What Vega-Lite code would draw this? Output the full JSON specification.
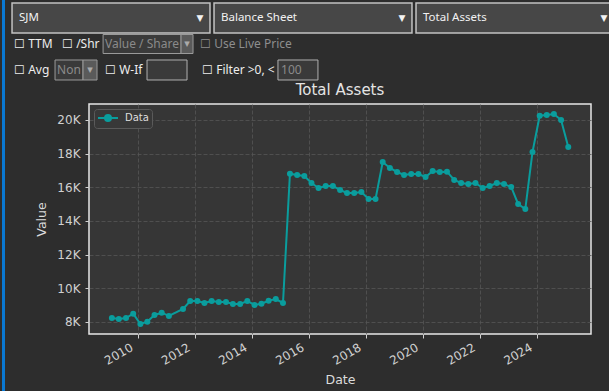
{
  "$schema": "https://vega.github.io/schema/vega-lite/v6.json",
  "background": "#2d2d2d",
  "padding": {"left": 2, "top": 0, "right": 0, "bottom": 10},
  "spacing": 4,
  "config": {"view": {"stroke": null}, "font": "DejaVu Sans"},
  "resolve": {"scale": {"color": "independent"}, "legend": {"color": "independent"}},
  "hconcat": [
    {
      "width": 3, "height": 391,
      "view": {"fill": "#0a78d2", "stroke": null},
      "data": {"values": []},
      "mark": "point"
    },
    {
      "spacing": 0,
      "resolve": {"scale": {"color": "independent"}, "legend": {"color": "independent"}},
      "vconcat": [
        {
          "width": 608, "height": 82,
          "view": {"stroke": null},
          "data": {"values": [{"name": "SJM", "row": "r1"}, {"name": "Balance Sheet", "row": "r1"}, {"name": "Total Assets", "row": "r1"}]},
          "layer": [
            {
              "mark": {"type": "rect", "height": 30, "fill": "#474747", "stroke": "#c2c2c2", "strokeWidth": 1.5},
              "encoding": {
                "x": {"field": "name", "type": "nominal", "scale": {"type": "band", "domain": ["SJM", "Balance Sheet", "Total Assets"], "paddingInner": 0.02, "paddingOuter": 0.015}, "axis": null},
                "y": {"field": "row", "type": "ordinal", "scale": {"type": "point", "domain": ["r1", "r2", "r3"], "padding": 0.577, "align": 0.6}, "axis": null}
              }
            },
            {
              "mark": {"type": "text", "align": "left", "baseline": "middle", "dx": 7, "color": "#f2f2f2", "fontSize": 11.5, "font": "Noto Sans"},
              "encoding": {"x": {"field": "name", "type": "nominal", "bandPosition": 0}, "y": {"field": "row", "type": "ordinal"}, "text": {"field": "name"}}
            },
            {
              "mark": {"type": "text", "align": "center", "baseline": "middle", "dx": -10, "color": "#f2f2f2", "fontSize": 9},
              "encoding": {"x": {"field": "name", "type": "nominal", "bandPosition": 1}, "y": {"field": "row", "type": "ordinal"}, "text": {"value": "▼"}}
            },
            {
              "data": {"values": [{"row": "r2"}]},
              "mark": {"type": "point", "shape": "M-3.9,-0.95L3.9,-0.95L3.9,0.95L-3.9,0.95Z", "size": 400, "filled": true, "fill": "#3a3a3a", "stroke": "#9a9a9a", "strokeWidth": 1, "opacity": 1},
              "encoding": {"x": {"datum": "SJM", "type": "nominal", "bandPosition": 0.657}, "y": {"field": "row", "type": "ordinal"}}
            },
            {
              "data": {"values": [{"row": "r2"}]},
              "mark": {"type": "point", "shape": "M-0.6,-0.95L0.6,-0.95L0.6,0.95L-0.6,0.95Z", "size": 400, "filled": true, "fill": "#5a5a5a", "stroke": "#9a9a9a", "strokeWidth": 1, "opacity": 1},
              "encoding": {"x": {"datum": "SJM", "type": "nominal", "bandPosition": 0.884}, "y": {"field": "row", "type": "ordinal"}}
            },
            {
              "data": {"values": [{"row": "r3"}]},
              "mark": {"type": "point", "shape": "M-1.4,-1L1.4,-1L1.4,1L-1.4,1Z", "size": 400, "filled": true, "fill": "#3a3a3a", "stroke": "#9a9a9a", "strokeWidth": 1, "opacity": 1},
              "encoding": {"x": {"datum": "SJM", "type": "nominal", "bandPosition": 0.288}, "y": {"field": "row", "type": "ordinal"}}
            },
            {
              "data": {"values": [{"row": "r3"}]},
              "mark": {"type": "point", "shape": "M-0.7,-1L0.7,-1L0.7,1L-0.7,1Z", "size": 400, "filled": true, "fill": "#5a5a5a", "stroke": "#9a9a9a", "strokeWidth": 1, "opacity": 1},
              "encoding": {"x": {"datum": "SJM", "type": "nominal", "bandPosition": 0.394}, "y": {"field": "row", "type": "ordinal"}}
            },
            {
              "data": {"values": [{"row": "r3"}]},
              "mark": {"type": "point", "shape": "M-2,-1L2,-1L2,1L-2,1Z", "size": 400, "filled": true, "fill": "#3a3a3a", "stroke": "#b0b0b0", "strokeWidth": 1, "opacity": 1},
              "encoding": {"x": {"datum": "SJM", "type": "nominal", "bandPosition": 0.783}, "y": {"field": "row", "type": "ordinal"}}
            },
            {
              "data": {"values": [{"row": "r3"}]},
              "mark": {"type": "point", "shape": "M-2,-1L2,-1L2,1L-2,1Z", "size": 400, "filled": true, "fill": "#3a3a3a", "stroke": "#b0b0b0", "strokeWidth": 1, "opacity": 1},
              "encoding": {"x": {"datum": "Balance Sheet", "type": "nominal", "bandPosition": 0.424}, "y": {"field": "row", "type": "ordinal"}}
            },
            {
              "data": {"values": [{"row": "r2", "label": "☐ TTM"}, {"row": "r3", "label": "☐ Avg"}]},
              "mark": {"type": "text", "align": "left", "baseline": "middle", "dx": 2, "color": "#eeeeee", "fontSize": 12, "font": "Noto Sans"},
              "encoding": {"x": {"datum": "SJM", "type": "nominal", "bandPosition": 0}, "y": {"field": "row", "type": "ordinal"}, "text": {"field": "label"}}
            },
            {
              "data": {"values": [{"row": "r2", "label": "☐ /Shr"}]},
              "mark": {"type": "text", "align": "left", "baseline": "middle", "dx": 50, "color": "#eeeeee", "fontSize": 12, "font": "Noto Sans"},
              "encoding": {"x": {"datum": "SJM", "type": "nominal", "bandPosition": 0}, "y": {"field": "row", "type": "ordinal"}, "text": {"field": "label"}}
            },
            {
              "data": {"values": [{"row": "r2", "label": "Value / Share"}]},
              "mark": {"type": "text", "align": "left", "baseline": "middle", "dx": 93, "color": "#8a8a8a", "fontSize": 12, "font": "Noto Sans"},
              "encoding": {"x": {"datum": "SJM", "type": "nominal", "bandPosition": 0}, "y": {"field": "row", "type": "ordinal"}, "text": {"field": "label"}}
            },
            {
              "data": {"values": [{"row": "r2", "label": "▾"}]},
              "mark": {"type": "text", "align": "center", "baseline": "middle", "dx": 175, "color": "#aaaaaa", "fontSize": 11},
              "encoding": {"x": {"datum": "SJM", "type": "nominal", "bandPosition": 0}, "y": {"field": "row", "type": "ordinal"}, "text": {"field": "label"}}
            },
            {
              "data": {"values": [{"row": "r2", "label": "☐ Use Live Price"}]},
              "mark": {"type": "text", "align": "left", "baseline": "middle", "dx": 188, "color": "#8e8e8e", "fontSize": 12, "font": "Noto Sans"},
              "encoding": {"x": {"datum": "SJM", "type": "nominal", "bandPosition": 0}, "y": {"field": "row", "type": "ordinal"}, "text": {"field": "label"}}
            },
            {
              "data": {"values": [{"row": "r3", "label": "Non"}]},
              "mark": {"type": "text", "align": "left", "baseline": "middle", "dx": 45, "color": "#8a8a8a", "fontSize": 12, "font": "Noto Sans"},
              "encoding": {"x": {"datum": "SJM", "type": "nominal", "bandPosition": 0}, "y": {"field": "row", "type": "ordinal"}, "text": {"field": "label"}}
            },
            {
              "data": {"values": [{"row": "r3", "label": "▾"}]},
              "mark": {"type": "text", "align": "center", "baseline": "middle", "dx": 78, "color": "#aaaaaa", "fontSize": 11},
              "encoding": {"x": {"datum": "SJM", "type": "nominal", "bandPosition": 0}, "y": {"field": "row", "type": "ordinal"}, "text": {"field": "label"}}
            },
            {
              "data": {"values": [{"row": "r3", "label": "☐ W-If"}]},
              "mark": {"type": "text", "align": "left", "baseline": "middle", "dx": 93, "color": "#eeeeee", "fontSize": 12, "font": "Noto Sans"},
              "encoding": {"x": {"datum": "SJM", "type": "nominal", "bandPosition": 0}, "y": {"field": "row", "type": "ordinal"}, "text": {"field": "label"}}
            },
            {
              "data": {"values": [{"row": "r3", "label": "☐ Filter >0, <"}]},
              "mark": {"type": "text", "align": "left", "baseline": "middle", "dx": 190, "color": "#eeeeee", "fontSize": 12, "font": "Noto Sans"},
              "encoding": {"x": {"datum": "SJM", "type": "nominal", "bandPosition": 0}, "y": {"field": "row", "type": "ordinal"}, "text": {"field": "label"}}
            },
            {
              "data": {"values": [{"row": "r3", "label": "100"}]},
              "mark": {"type": "text", "align": "left", "baseline": "middle", "dx": 269, "color": "#8a8a8a", "fontSize": 12, "font": "Noto Sans"},
              "encoding": {"x": {"datum": "SJM", "type": "nominal", "bandPosition": 0}, "y": {"field": "row", "type": "ordinal"}, "text": {"field": "label"}}
            }
          ]
        },
        {
          "spacing": 0,
          "resolve": {"scale": {"color": "independent"}, "legend": {"color": "independent"}},
          "hconcat": [
            {
              "width": 26, "height": 230,
              "view": {"stroke": null},
              "data": {"values": []},
              "mark": "point"
            },
            {
              "width": 502, "height": 230,
              "view": {"fill": "#363636", "stroke": "#e6e6e6", "strokeWidth": 1.5},
              "title": {"text": "Total Assets", "fontSize": 15, "fontWeight": "normal", "color": "#e4e4e4", "font": "DejaVu Sans", "offset": 6, "anchor": "middle"},
              "data": {"values": [
                {"date": "2009-01-31", "value": 8238, "series": "Data"},
                {"date": "2009-04-30", "value": 8178, "series": "Data"},
                {"date": "2009-07-31", "value": 8238, "series": "Data"},
                {"date": "2009-10-31", "value": 8493, "series": "Data"},
                {"date": "2010-01-31", "value": 7881, "series": "Data"},
                {"date": "2010-04-30", "value": 8018, "series": "Data"},
                {"date": "2010-07-31", "value": 8416, "series": "Data"},
                {"date": "2010-10-31", "value": 8552, "series": "Data"},
                {"date": "2011-01-31", "value": 8356, "series": "Data"},
                {"date": "2011-07-31", "value": 8772, "series": "Data"},
                {"date": "2011-10-31", "value": 9248, "series": "Data"},
                {"date": "2012-01-31", "value": 9248, "series": "Data"},
                {"date": "2012-04-30", "value": 9129, "series": "Data"},
                {"date": "2012-07-31", "value": 9248, "series": "Data"},
                {"date": "2012-10-31", "value": 9188, "series": "Data"},
                {"date": "2013-01-31", "value": 9188, "series": "Data"},
                {"date": "2013-04-30", "value": 9069, "series": "Data"},
                {"date": "2013-07-31", "value": 9069, "series": "Data"},
                {"date": "2013-10-31", "value": 9248, "series": "Data"},
                {"date": "2014-01-31", "value": 9010, "series": "Data"},
                {"date": "2014-04-30", "value": 9087, "series": "Data"},
                {"date": "2014-07-31", "value": 9265, "series": "Data"},
                {"date": "2014-10-31", "value": 9366, "series": "Data"},
                {"date": "2015-01-31", "value": 9129, "series": "Data"},
                {"date": "2015-04-30", "value": 16810, "series": "Data"},
                {"date": "2015-07-31", "value": 16733, "series": "Data"},
                {"date": "2015-10-31", "value": 16673, "series": "Data"},
                {"date": "2016-01-31", "value": 16258, "series": "Data"},
                {"date": "2016-04-30", "value": 15960, "series": "Data"},
                {"date": "2016-07-31", "value": 16079, "series": "Data"},
                {"date": "2016-10-31", "value": 16079, "series": "Data"},
                {"date": "2017-01-31", "value": 15842, "series": "Data"},
                {"date": "2017-04-30", "value": 15664, "series": "Data"},
                {"date": "2017-07-31", "value": 15664, "series": "Data"},
                {"date": "2017-10-31", "value": 15723, "series": "Data"},
                {"date": "2018-01-31", "value": 15307, "series": "Data"},
                {"date": "2018-04-30", "value": 15307, "series": "Data"},
                {"date": "2018-07-31", "value": 17505, "series": "Data"},
                {"date": "2018-10-31", "value": 17149, "series": "Data"},
                {"date": "2019-01-31", "value": 16911, "series": "Data"},
                {"date": "2019-04-30", "value": 16733, "series": "Data"},
                {"date": "2019-07-31", "value": 16792, "series": "Data"},
                {"date": "2019-10-31", "value": 16792, "series": "Data"},
                {"date": "2020-01-31", "value": 16614, "series": "Data"},
                {"date": "2020-04-30", "value": 16970, "series": "Data"},
                {"date": "2020-07-31", "value": 16911, "series": "Data"},
                {"date": "2020-10-31", "value": 16929, "series": "Data"},
                {"date": "2021-01-31", "value": 16436, "series": "Data"},
                {"date": "2021-04-30", "value": 16258, "series": "Data"},
                {"date": "2021-07-31", "value": 16198, "series": "Data"},
                {"date": "2021-10-31", "value": 16258, "series": "Data"},
                {"date": "2022-01-31", "value": 15960, "series": "Data"},
                {"date": "2022-04-30", "value": 16079, "series": "Data"},
                {"date": "2022-07-31", "value": 16258, "series": "Data"},
                {"date": "2022-10-31", "value": 16198, "series": "Data"},
                {"date": "2023-01-31", "value": 16020, "series": "Data"},
                {"date": "2023-04-30", "value": 15010, "series": "Data"},
                {"date": "2023-07-31", "value": 14713, "series": "Data"},
                {"date": "2023-10-31", "value": 18099, "series": "Data"},
                {"date": "2024-01-31", "value": 20256, "series": "Data"},
                {"date": "2024-04-30", "value": 20297, "series": "Data"},
                {"date": "2024-07-31", "value": 20357, "series": "Data"},
                {"date": "2024-10-31", "value": 20000, "series": "Data"},
                {"date": "2025-01-31", "value": 18396, "series": "Data"}
              ]},
              "mark": {"type": "line", "strokeWidth": 2, "point": {"filled": true, "size": 36, "opacity": 1}},
              "encoding": {
                "x": {
                  "field": "date", "type": "temporal", "title": "Date",
                  "scale": {"type": "utc", "domain": ["2008-04-13", "2025-11-18"]},
                  "axis": {
                    "format": "%Y", "tickCount": {"interval": "year", "step": 2},
                    "domain": false, "tickColor": "#d0d0d0", "tickSize": 4, "tickWidth": 1,
                    "labelColor": "#d0d0d0", "labelFontSize": 12, "labelFont": "DejaVu Sans",
                    "labelAngle": 330, "labelAlign": "right", "labelBaseline": "bottom", "labelPadding": 14, "labelOffset": -3,
                    "labelFlush": false, "labelOverlap": false,
                    "titleColor": "#dcdcdc", "titleFontSize": 12.5, "titleFontWeight": "normal", "titleFont": "DejaVu Sans", "titlePadding": 7,
                    "grid": true, "gridColor": "#555555", "gridDash": [4, 2], "gridWidth": 0.8
                  }
                },
                "y": {
                  "field": "value", "type": "quantitative", "title": "Value",
                  "scale": {"domain": [7287, 20950], "nice": false, "zero": false},
                  "axis": {
                    "values": [8000, 10000, 12000, 14000, 16000, 18000, 20000],
                    "labelExpr": "format(datum.value / 1000, 'd') + 'K'",
                    "domain": false, "tickColor": "#d0d0d0", "tickSize": 4, "tickWidth": 1,
                    "labelColor": "#d0d0d0", "labelFontSize": 12, "labelFont": "DejaVu Sans", "labelPadding": 5,
                    "titleColor": "#dcdcdc", "titleFontSize": 12.5, "titleFontWeight": "normal", "titleFont": "DejaVu Sans", "titlePadding": 8,
                    "grid": true, "gridColor": "#555555", "gridDash": [4, 2], "gridWidth": 0.8
                  }
                },
                "color": {
                  "field": "series", "type": "nominal",
                  "scale": {"range": ["#0a9d9d"]},
                  "legend": {
                    "title": null, "orient": "top-left", "offset": 5, "padding": 3,
                    "fillColor": "#383838", "strokeColor": "#5a5a5a", "cornerRadius": 3,
                    "labelColor": "#dddddd", "labelFontSize": 10, "labelFont": "DejaVu Sans", "labelOffset": 11,
                    "symbolType": "M-2,0L2,0M0.6,0A0.6,0.6,0,1,1,-0.6,0A0.6,0.6,0,1,1,0.6,0Z",
                    "symbolSize": 100, "symbolStrokeWidth": 2, "symbolFillColor": "#0a9d9d", "symbolStrokeColor": "#0a9d9d", "symbolOffset": 5
                  }
                }
              }
            }
          ]
        }
      ]
    }
  ]
}
